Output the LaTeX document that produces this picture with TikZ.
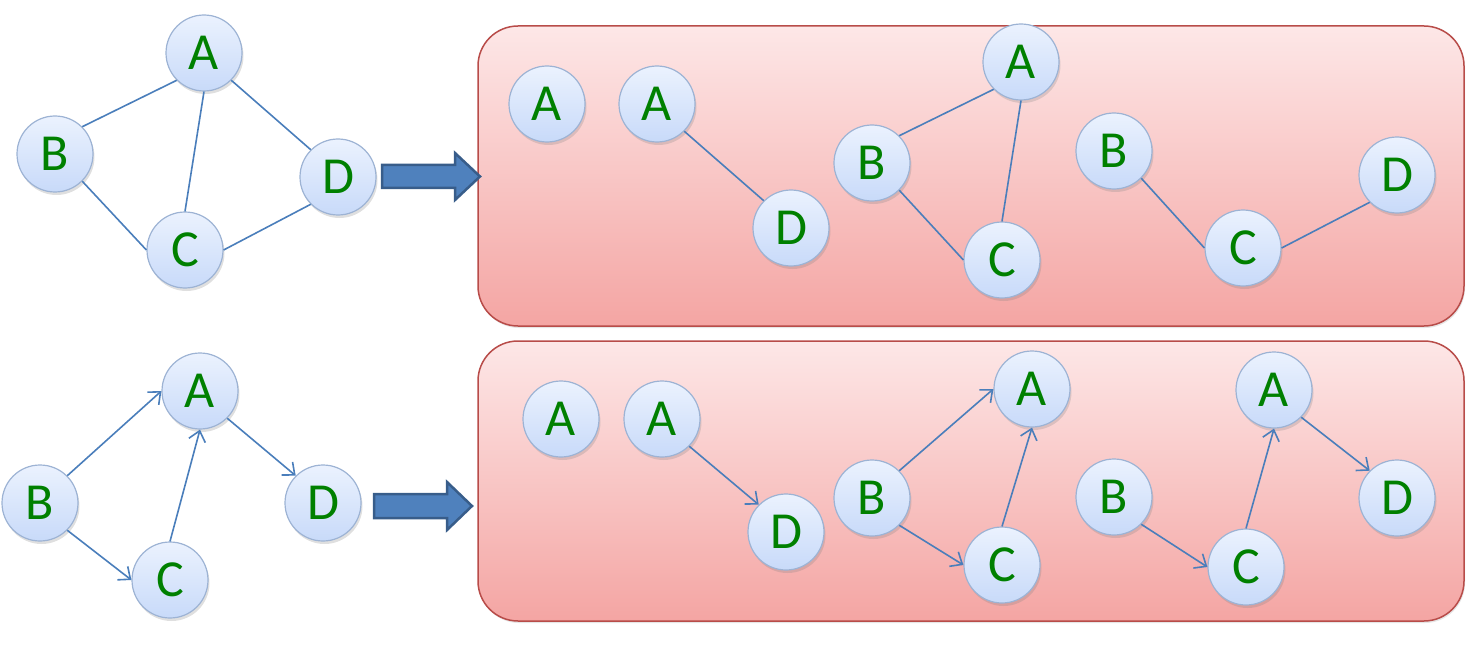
\documentclass[tikz,border=0pt]{standalone}
\usepackage{fontspec}
\setmainfont{Carlito}
\usetikzlibrary{arrows.meta,shadows}
\definecolor{edgeblue}{HTML}{4A7EBB}
\definecolor{nodetop}{HTML}{EBF2FE}
\definecolor{nodebot}{HTML}{C8DAF9}
\definecolor{nodeline}{HTML}{9DB3D4}
\definecolor{lettergreen}{HTML}{008000}
\definecolor{boxtop}{HTML}{FDE7E7}
\definecolor{boxbot}{HTML}{F4A5A3}
\definecolor{boxline}{HTML}{B84C49}
\definecolor{bigfill}{HTML}{4F81BD}
\definecolor{bigline}{HTML}{385D8A}
\tikzset{
  vert/.style={circle, minimum size=76pt, inner sep=0pt,
    top color=nodetop, bottom color=nodebot, draw=nodeline, line width=1.2pt,
    drop shadow={shadow xshift=1.5pt, shadow yshift=-3pt, opacity=0.25},
    text=lettergreen, font=\fontsize{52}{52}\selectfont},
  edge/.style={draw=edgeblue, line width=1.6pt},
  arc/.style={edge, -{Straight Barb[length=10pt,width=17pt,line width=1.6pt]}},
  panel/.style={rounded corners=40pt, top color=boxtop, bottom color=boxbot,
    draw=boxline, line width=1.5pt,
    drop shadow={shadow xshift=1pt, shadow yshift=-2pt, opacity=0.2}},
  blockarrow/.style={fill=bigfill, draw=bigline, line width=2.5pt, line join=miter}
}
\begin{document}
\begin{tikzpicture}[x=1pt,y=-1pt]
\useasboundingbox (0,0) rectangle (1476,650);

% panels
\path[panel] (478,26) rectangle (1464,326);
\path[panel] (478,341) rectangle (1464,621);

% block arrows
\path[blockarrow] (382,165) -- (455,165) -- (455,153) -- (480,176.5) -- (455,200) -- (455,188) -- (382,188) -- cycle;
\path[blockarrow] (374,494) -- (447,494) -- (447,482) -- (472,506) -- (447,530) -- (447,518) -- (374,518) -- cycle;

% undirected graph
\node[vert] (uA) at (204,53) {A};
\node[vert] (uB) at (55,154) {B};
\node[vert] (uC) at (185,250) {C};
\node[vert] (uD) at (338,177) {D};
\draw[edge] (uA.south west) -- (uB.north east);
\draw[edge] (uA.south) -- (uC.north);
\draw[edge] (uA.south east) -- (uD.north west);
\draw[edge] (uB.south east) -- (uC.west);
\draw[edge] (uC.east) -- (uD.south west);

% its connected subgraphs
\node[vert] (p1A) at (547,104) {A};
\node[vert] (p2A) at (657,104) {A};
\node[vert] (p2D) at (791,228) {D};
\node[vert] (p3B) at (872,163) {B};
\node[vert] (p3A) at (1021,62) {A};
\node[vert] (p3C) at (1002,260) {C};
\node[vert] (p4B) at (1114,151) {B};
\node[vert] (p4C) at (1243,248) {C};
\node[vert] (p4D) at (1397,175) {D};
\draw[edge] (p2A.south east) -- (p2D.north west);
\draw[edge] (p3B.north east) -- (p3A.south west);
\draw[edge] (p3B.south east) -- (p3C.west);
\draw[edge] (p3A.south) -- (p3C.north);
\draw[edge] (p4B.south east) -- (p4C.west);
\draw[edge] (p4C.east) -- (p4D.south west);

% directed graph
\node[vert] (dA) at (200,391) {A};
\node[vert] (dB) at (40,503) {B};
\node[vert] (dC) at (170,580) {C};
\node[vert] (dD) at (323,503) {D};
\draw[arc] (dB.north east) -- (dA.west);
\draw[arc] (dA.south east) -- (dD.north west);
\draw[arc] (dB.south east) -- (dC.west);
\draw[arc] (dC.north) -- (dA.south);

% its connected subgraphs
\node[vert] (q1A) at (561,419) {A};
\node[vert] (q2A) at (662,419) {A};
\node[vert] (q2D) at (786,532) {D};
\node[vert] (q3B) at (872,498) {B};
\node[vert] (q3A) at (1032,389) {A};
\node[vert] (q3C) at (1002,565) {C};
\node[vert] (q4B) at (1114,497) {B};
\node[vert] (q4A) at (1274,390) {A};
\node[vert] (q4C) at (1246,567) {C};
\node[vert] (q4D) at (1397,498) {D};
\draw[arc] (q2A.south east) -- (q2D.north west);
\draw[arc] (q3B.north east) -- (q3A.west);
\draw[arc] (q3B.south east) -- (q3C.west);
\draw[arc] (q3C.north) -- (q3A.south);
\draw[arc] (q4B.south east) -- (q4C.west);
\draw[arc] (q4C.north) -- (q4A.south);
\draw[arc] (q4A.south east) -- (q4D.north west);
\end{tikzpicture}
\end{document}
